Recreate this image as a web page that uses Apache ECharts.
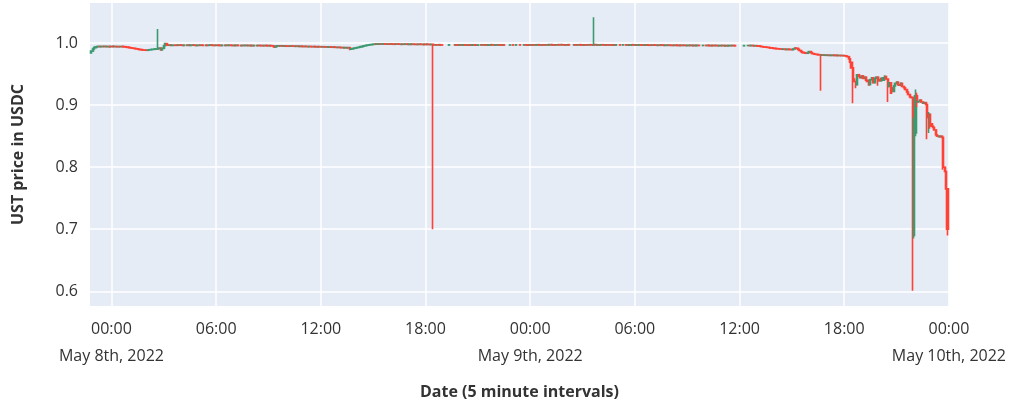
<!DOCTYPE html>
<html><head><meta charset="utf-8">
<script src="https://cdn.jsdelivr.net/npm/echarts@6/dist/echarts.min.js"></script>
<style>html,body{margin:0;padding:0;background:#fff}#c{width:1009px;height:406px}</style>
</head><body><div id="c"></div>
<script>
// Time of first candle: May 7th 2022 22:50, in hours relative to May 8th 00:00
const startHour = -14 / 12;
const stepHours = 5 / 60;
const firstOpen = 0.9840;

// Close prices per 5-minute candle (null = no trades in that interval)
const closesMay7 = [0.9870,0.9905,0.9925,0.9938,0.9942,0.9946,0.9941,0.9945,0.9943,0.9947,0.9942,0.9944,0.9940,0.9945];

const closesMay8 = [
  0.9943,0.9947,0.9942,0.9944,0.9940,0.9943,0.9941,0.9945,0.9942,0.9938,0.9935,0.9930,
  0.9928,0.9922,0.9918,0.9915,0.9910,0.9906,0.9900,0.9897,0.9893,0.9890,0.9887,0.9885,
  0.9883,0.9888,0.9892,0.9895,0.9898,0.9900,0.9903,0.9905,0.9912,0.9918,0.9890,0.9915,
  0.9955,0.9990,0.9968,0.9964,0.9967,0.9962,0.9966,null,0.9963,0.9967,0.9964,0.9968,
  0.9965,0.9961,0.9966,null,0.9963,0.9967,0.9962,0.9965,0.9968,0.9964,0.9960,0.9965,
  0.9963,0.9967,0.9964,0.9961,null,0.9966,0.9962,0.9965,0.9969,0.9964,0.9961,0.9965,
  0.9962,0.9966,0.9963,0.9960,0.9964,null,0.9961,0.9965,0.9962,0.9966,0.9963,0.9959,
  0.9963,0.9960,0.9964,0.9961,null,0.9958,0.9962,0.9960,0.9963,0.9959,0.9962,0.9958,
  0.9961,0.9957,0.9960,null,0.9958,0.9962,0.9959,0.9956,0.9960,0.9957,0.9961,0.9958,
  0.9955,0.9959,0.9956,0.9952,0.9935,0.9950,0.9955,0.9952,0.9956,0.9953,0.9950,0.9954,
  0.9951,0.9948,0.9952,0.9949,0.9953,0.9950,0.9947,0.9951,0.9948,0.9945,0.9949,0.9946,
  0.9943,0.9947,0.9944,0.9941,0.9945,0.9942,0.9940,0.9944,0.9941,0.9938,0.9942,0.9939,
  0.9941,0.9937,0.9940,0.9936,0.9939,0.9935,0.9938,0.9934,0.9932,0.9936,0.9931,0.9929,
  0.9932,0.9928,0.9925,0.9927,0.9923,0.9926,0.9922,0.9925,0.9900,0.9905,0.9912,0.9918,
  0.9922,0.9928,0.9933,0.9938,0.9945,0.9950,0.9956,0.9962,0.9966,0.9970,0.9974,0.9977,
  0.9980,0.9984,0.9981,0.9985,0.9982,0.9986,0.9983,0.9987,0.9984,0.9981,0.9985,0.9982,
  0.9986,0.9983,0.9980,0.9984,0.9981,0.9985,0.9982,0.9979,0.9983,0.9980,0.9984,0.9981,
  0.9978,0.9982,0.9979,0.9983,0.9980,0.9977,0.9981,0.9978,0.9982,0.9979,0.9976,0.9980,
  0.9977,0.9981,0.9978,0.9975,0.9979,0.9972,0.9968,0.9972,0.9969,0.9973,0.9970,0.9967,
  null,null,null,null,0.9971,null,null,null,0.9968,0.9972,0.9969,0.9966,
  0.9970,0.9967,0.9971,0.9968,0.9965,0.9969,0.9966,0.9970,0.9967,0.9971,0.9968,0.9965,
  0.9969,null,0.9972,0.9968,0.9971,0.9967,0.9970,0.9966,0.9969,0.9973,0.9970,0.9967,
  0.9971,0.9968,0.9972,0.9969,0.9966,0.9970,0.9967,null,null,null,0.9970,null,
  0.9967,null,0.9971,null,null,0.9968,null,null,0.9972,0.9969,0.9966,0.9970
];

const closesMay9 = [
  0.9967,0.9971,0.9968,0.9972,0.9969,0.9973,0.9970,0.9967,0.9971,0.9968,0.9972,0.9969,
  0.9973,0.9970,0.9974,0.9971,0.9968,0.9972,0.9969,0.9973,0.9970,0.9974,0.9971,0.9968,
  0.9972,0.9969,0.9973,0.9970,null,null,0.9971,0.9968,0.9972,0.9969,0.9973,0.9970,
  0.9967,0.9971,0.9968,0.9972,0.9969,0.9973,0.9970,0.9966,0.9975,0.9971,0.9968,0.9972,
  0.9969,0.9973,0.9970,0.9967,0.9971,0.9968,0.9972,0.9969,0.9966,0.9970,0.9967,0.9971,
  null,null,0.9968,null,0.9971,null,0.9967,0.9970,0.9966,0.9969,0.9973,0.9970,
  0.9966,0.9970,0.9967,0.9971,0.9968,0.9965,0.9969,0.9966,0.9970,0.9967,0.9964,0.9968,
  0.9965,0.9969,0.9966,0.9963,0.9967,0.9964,0.9968,0.9965,0.9962,0.9966,0.9963,0.9967,
  0.9964,0.9961,0.9965,0.9962,0.9966,0.9963,0.9960,0.9964,0.9961,0.9965,0.9962,0.9959,
  0.9963,0.9960,0.9964,0.9961,0.9958,0.9962,0.9959,0.9963,0.9960,null,null,0.9962,
  null,0.9959,0.9963,0.9960,0.9957,0.9961,0.9958,0.9962,0.9959,0.9956,0.9960,0.9957,
  0.9961,0.9958,0.9955,0.9959,0.9956,0.9960,0.9957,0.9961,0.9958,0.9955,null,null,
  null,null,null,0.9959,null,null,0.9960,0.9958,0.9961,0.9957,0.9955,0.9957,
  0.9953,0.9950,0.9948,0.9942,0.9938,0.9935,0.9933,0.9930,0.9926,0.9922,0.9920,0.9915,
  0.9912,0.9910,0.9908,0.9906,0.9904,0.9900,0.9902,0.9898,0.9896,0.9900,0.9897,0.9895,
  0.9893,0.9905,0.9920,0.9915,0.9900,0.9880,0.9862,0.9850,0.9843,0.9838,0.9835,0.9850,
  0.9862,0.9845,0.9830,0.9822,0.9818,0.9815,0.9812,0.9810,0.9805,0.9808,0.9803,0.9806,
  0.9802,0.9805,0.9800,0.9804,0.9801,0.9803,0.9799,0.9802,0.9798,0.9800,0.9797,0.9799,
  0.9795,0.9790,0.9780,0.9745,0.9690,0.9600,0.9420,0.9380,0.9330,0.9490,0.9465,0.9440,
  0.9470,0.9430,0.9450,0.9400,0.9380,0.9330,0.9410,0.9440,0.9360,0.9430,0.9450,0.9410,
  0.9390,0.9430,0.9400,0.9440,0.9460,0.9420,0.9300,0.9360,0.9280,0.9220,0.9310,0.9350,
  0.9370,0.9330,0.9320,0.9350,0.9300,0.9280,0.9250,0.9210,0.9170,0.9130,0.9120,0.6900,
  0.8550,0.9150,0.9050,0.9060,0.9080,0.9050,0.9030,0.9040,0.9010,0.8800,0.8850,0.8700,
  0.8660,0.8640,0.8600,0.8520,0.8500,0.8490,0.8500,0.8480,0.8000,0.7930,0.7650,0.7000
];

// Candles with visible wicks: [candle index, low, high]
const wicks = [
  [0,0.9835,0.9872],[46,0.9898,1.0225],[48,0.9885,0.9932],[51,0.9950,1.0000],
  [126,0.9918,0.9960],[178,0.9885,0.9942],[235,0.7000,0.9984],[346,0.9964,1.0415],
  [484,0.9904,0.9928],[502,0.9230,0.9815],[524,0.9030,0.9600],[526,0.9270,0.9380],
  [527,0.9330,0.9500],[535,0.9310,0.9380],[541,0.9310,0.9450],[546,0.9440,0.9480],
  [548,0.9050,0.9420],[550,0.9180,0.9360],[551,0.9180,0.9280],[553,0.9310,0.9360],
  [554,0.9350,0.9380],[557,0.9320,0.9370],[565,0.6010,0.9140],[566,0.6850,0.8800],
  [567,0.8500,0.9250],[568,0.8970,0.9200],[575,0.8450,0.9010],[576,0.8550,0.8890],
  [577,0.8620,0.8850],[586,0.7960,0.8480],[588,0.7650,0.7950],[589,0.6900,0.7650]
];

const xTicks = [0,6,12,18,24,30,36,42,48];
const xTickLabels = ['00:00\nMay 8th, 2022','06:00','12:00','18:00','00:00\nMay 9th, 2022','06:00','12:00','18:00','00:00\nMay 10th, 2022'];
const yTicks = [0.6,0.7,0.8,0.9,1.0];

const closes = closesMay7.concat(closesMay8, closesMay9);
const wickMap = {};
wicks.forEach(w => { wickMap[w[0]] = w; });
const data = [];
let prev = firstOpen;
closes.forEach((c, i) => {
  if (c === null) return;
  const o = prev;
  let lo = Math.min(o, c), hi = Math.max(o, c);
  const w = wickMap[i];
  if (w) { lo = Math.min(lo, w[1]); hi = Math.max(hi, w[2]); }
  data.push([startHour + i * stepHours, o, c, lo, hi]);
  prev = c;
});

const font = '"Open Sans", sans-serif';
const textColor = '#333';
const chart = echarts.init(document.getElementById('c'), null, {renderer: 'canvas'});
chart.setOption({
  animation: false,
  backgroundColor: '#fff',
  grid: {left: 90, right: 60, top: 3, bottom: 100, show: true, backgroundColor: '#E5ECF6', borderWidth: 0},
  xAxis: {
    type: 'value', min: -1.23, max: 48,
    name: 'Date (5 minute intervals)', nameLocation: 'middle', nameGap: 78,
    nameTextStyle: {fontFamily: font, fontWeight: 'bold', fontSize: 16, color: textColor},
    axisLine: {show: false},
    axisTick: {show: false, customValues: xTicks},
    axisLabel: {customValues: xTicks, fontFamily: font, fontSize: 16, color: textColor, margin: 10, lineHeight: 27,
      formatter: v => { const k = xTicks.indexOf(v); return k >= 0 ? xTickLabels[k] : ''; }},
    splitLine: {show: true, lineStyle: {color: '#fff', width: 1.5}}
  },
  yAxis: {
    type: 'value', min: 0.5763, max: 1.0645,
    name: 'UST price in USDC', nameLocation: 'middle', nameGap: 64,
    nameTextStyle: {fontFamily: font, fontWeight: 'bold', fontSize: 16, color: textColor},
    axisLine: {show: false},
    axisTick: {show: false, customValues: yTicks},
    axisLabel: {customValues: yTicks, fontFamily: font, fontSize: 16, color: textColor, margin: 12,
      formatter: v => v.toFixed(1)},
    splitLine: {show: true, lineStyle: {color: '#fff', width: 1.5}}
  },
  series: [{
    type: 'candlestick',
    data: data,
    encode: {x: 0, y: [1, 2, 3, 4]},
    barWidth: 1.6,
    large: false,
    itemStyle: {color: '#3D9970', color0: '#FF4136', borderColor: '#3D9970', borderColor0: '#FF4136', borderWidth: 1.6}
  }]
});
</script>
</body></html>
